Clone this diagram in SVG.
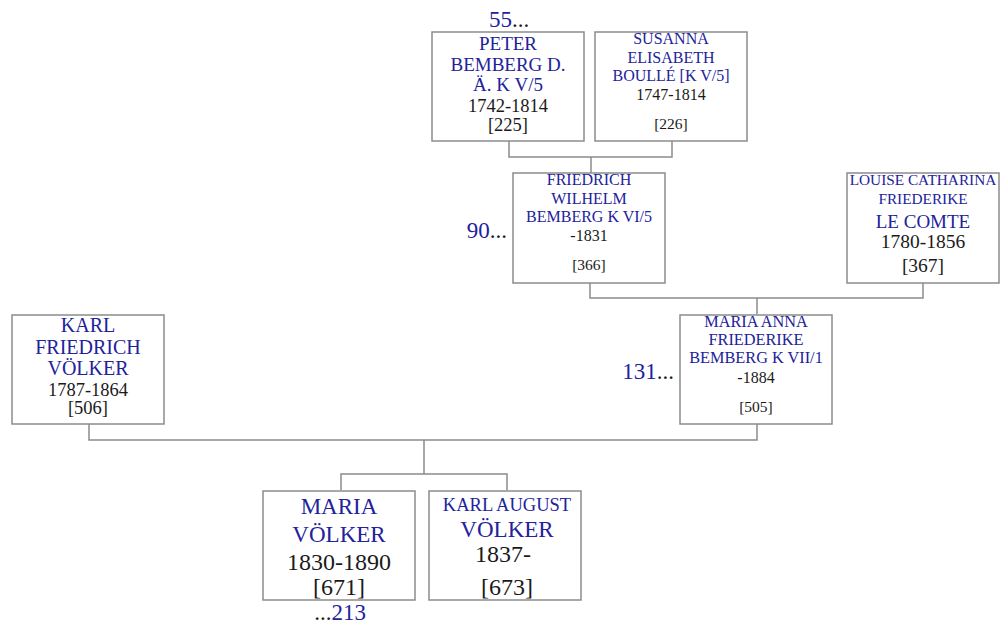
<svg xmlns="http://www.w3.org/2000/svg" width="1006" height="626" viewBox="0 0 1006 626">
<style>
.box{fill:#fff;stroke:#8c8c8c;stroke-width:1.5}
.ln{fill:none;stroke:#8c8c8c;stroke-width:1.5}
text{font-family:"Liberation Serif","DejaVu Serif",serif;text-anchor:middle}
.n{fill:#22229a}
.d{fill:#1a1a1a}
.b{fill:#22229a}
.k{fill:#1a1a1a}
.e{text-anchor:end}
</style>
<rect width="1006" height="626" fill="#fff"/>
<g id="connectors">
<path class="ln" d="M509,141V157H672V141M591,157V173"/>
<path class="ln" d="M590,283V298H923V283M757,298V314"/>
<path class="ln" d="M89,424V440H757V424M424,440V474H341V490M424,474H507V490"/>
</g>
<g id="peter">
<rect class="box" x="432" y="32" width="152" height="109"/>
<text class="n" x="508" y="50" font-size="19">PETER</text>
<text class="n" x="508" y="71" font-size="19">BEMBERG D.</text>
<text class="n" x="508" y="91" font-size="19">Ä. K V/5</text>
<text class="d" x="508" y="112" font-size="18.5">1742-1814</text>
<text class="d" x="508" y="131" font-size="18.5">[225]</text>
<text x="509" y="27" font-size="23"><tspan class="b">55</tspan><tspan class="k">...</tspan></text>
</g>
<g id="susanna">
<rect class="box" x="595" y="32" width="152" height="109"/>
<text class="n" x="671" y="44" font-size="16">SUSANNA</text>
<text class="n" x="671" y="63" font-size="16">ELISABETH</text>
<text class="n" x="671" y="81" font-size="16">BOULLÉ [K V/5]</text>
<text class="d" x="671" y="100" font-size="16">1747-1814</text>
<text class="d" x="671" y="129" font-size="15.5">[226]</text>
</g>
<g id="friedrich">
<rect class="box" x="513" y="173" width="152" height="110"/>
<text class="n" x="589" y="185" font-size="16">FRIEDRICH</text>
<text class="n" x="589" y="204" font-size="16">WILHELM</text>
<text class="n" x="589" y="222" font-size="16">BEMBERG K VI/5</text>
<text class="d" x="589" y="241" font-size="16">-1831</text>
<text class="d" x="589" y="270" font-size="15.5">[366]</text>
<text class="e" x="507" y="238" font-size="23"><tspan class="b">90</tspan><tspan class="k">...</tspan></text>
</g>
<g id="louise">
<rect class="box" x="847" y="173" width="152" height="110"/>
<text class="n" x="923" y="185" font-size="15.3">LOUISE CATHARINA</text>
<text class="n" x="923" y="204" font-size="15.3">FRIEDERIKE</text>
<text class="n" x="923" y="228" font-size="19">LE COMTE</text>
<text class="d" x="923" y="248" font-size="19.5">1780-1856</text>
<text class="d" x="923" y="272" font-size="19.5">[367]</text>
</g>
<g id="karlfriedrich">
<rect class="box" x="12" y="315" width="152" height="109"/>
<text class="n" x="88" y="332" font-size="20">KARL</text>
<text class="n" x="88" y="354" font-size="20">FRIEDRICH</text>
<text class="n" x="88" y="375" font-size="20">VÖLKER</text>
<text class="d" x="88" y="396" font-size="18.5">1787-1864</text>
<text class="d" x="88" y="414" font-size="18.5">[506]</text>
</g>
<g id="mariaanna">
<rect class="box" x="680" y="315" width="152" height="109"/>
<text class="n" x="756" y="327" font-size="16.3">MARIA ANNA</text>
<text class="n" x="756" y="345" font-size="16.3">FRIEDERIKE</text>
<text class="n" x="756" y="363" font-size="16.3">BEMBERG K VII/1</text>
<text class="d" x="756" y="383" font-size="16">-1884</text>
<text class="d" x="756" y="412" font-size="15.5">[505]</text>
<text class="e" x="674" y="379" font-size="23"><tspan class="b">131</tspan><tspan class="k">...</tspan></text>
</g>
<g id="mariavoelker">
<rect class="box" x="263" y="491" width="152" height="109"/>
<text class="n" x="339" y="514" font-size="23">MARIA</text>
<text class="n" x="339" y="542" font-size="23">VÖLKER</text>
<text class="d" x="339" y="570" font-size="24">1830-1890</text>
<text class="d" x="339" y="595" font-size="24">[671]</text>
<text x="340" y="620" font-size="23"><tspan class="k">...</tspan><tspan class="b">213</tspan></text>
</g>
<g id="karlaugust">
<rect class="box" x="429" y="491" width="152" height="109"/>
<text class="n" x="507" y="511" font-size="18.5">KARL AUGUST</text>
<text class="n" x="507" y="537" font-size="23">VÖLKER</text>
<text class="d" x="503" y="562" font-size="24">1837-</text>
<text class="d" x="507" y="595" font-size="24">[673]</text>
</g>
</svg>
